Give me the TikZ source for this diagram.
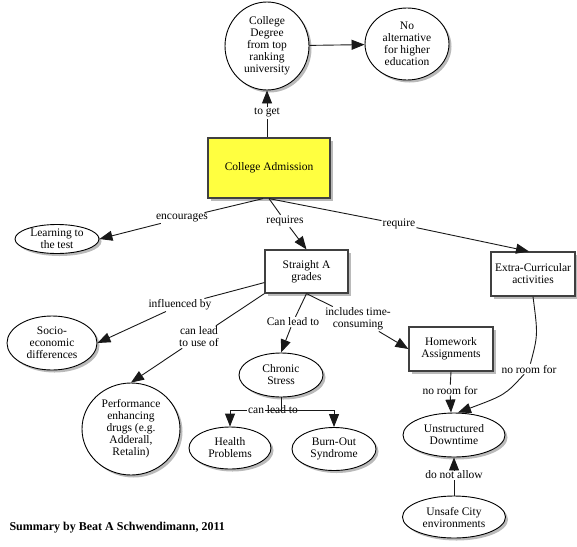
\documentclass[tikz,border=0pt]{standalone}
\usepackage{fontspec}
\setmainfont{Liberation Serif}
\usetikzlibrary{shapes.geometric,shadows,arrows.meta,calc}
\definecolor{admyellow}{RGB}{255,255,64}
\begin{document}
\begin{tikzpicture}[x=1pt,y=-1pt,
  every node/.style={font=\fontsize{11.5}{12}\selectfont},
  shad/.style={drop shadow={shadow xshift=2.5pt,shadow yshift=-2.5pt,fill=black!45,opacity=0.6}},
  ell/.style={ellipse,draw=black,line width=0.9pt,fill=white,align=center,inner sep=-15pt,shad},
  box/.style={rectangle,draw=black!75,line width=1.2pt,fill=white,align=center,inner sep=0pt,shad},
  lbl/.style={fill=white,inner sep=1pt,align=center},
  ln/.style={draw=black!90,line width=0.9pt},
  arr/.style={ln,-{Triangle[length=13pt,width=10pt]}}]
\useasboundingbox (0,0) rectangle (577,546);

% concepts
\node[ell,minimum width=84pt,minimum height=88pt] (deg) at (267,46) {College\\Degree\\from top\\ranking\\university};
\node[ell,minimum width=84pt,minimum height=72pt] (noalt) at (407,44) {No\\alternative\\for higher\\education};
\node[box,fill=admyellow,minimum width=122pt,minimum height=60pt] (adm) at (269,168) {College Admission};
\node[ell,minimum width=84pt,minimum height=29pt] (learn) at (57,239) {Learning to\\the test};
\node[box,minimum width=83pt,minimum height=43pt] (straight) at (306.5,271.5) {Straight A\\grades};
\node[box,minimum width=84pt,minimum height=44pt] (extra) at (533,274) {Extra-Curricular\\activities};
\node[ell,minimum width=90pt,minimum height=54pt] (socio) at (52,343) {Socio-\\economic\\differences};
\node[ell,minimum width=98pt,minimum height=92pt] (perf) at (131,429) {Performance\\enhancing\\drugs (e.g.\\Adderall,\\Retalin)};
\node[ell,minimum width=84pt,minimum height=44pt] (chronic) at (281,375) {Chronic\\Stress};
\node[box,minimum width=84pt,minimum height=44pt] (hw) at (451,349) {Homework\\Assignments};
\node[ell,minimum width=82pt,minimum height=42pt] (health) at (230,448) {Health\\Problems};
\node[ell,minimum width=84pt,minimum height=43pt] (burn) at (334,449) {Burn-Out\\Syndrome};
\node[ell,minimum width=102pt,minimum height=44pt] (unstr) at (454,435) {Unstructured\\Downtime};
\node[ell,minimum width=103pt,minimum height=42pt] (unsafe) at (454,517) {Unsafe City\\environments};

% linking phrases
\node[lbl] (toget) at (267,113) {to get};
\node[lbl] (enc) at (182,218) {encourages};
\node[lbl] (req) at (285,221) {requires};
\node[lbl] (reqr) at (399,224) {require};
\node[lbl] (infl) at (180,305) {influenced by};
\node[lbl] (cltu) at (199,337) {can lead\\to use of};
\node[lbl] (clt) at (293,322) {Can lead to};
\node[lbl] (incl) at (358,319) {includes time-\\consuming};
\node[lbl] (nr1) at (450,390) {no room for};
\node[lbl] (nr2) at (529,369) {no room for};
\node[lbl] (dna) at (454,475) {do not allow};
\node[lbl] (cl2) at (273,410) {can lead to};
\coordinate (fork) at (281,410);
\coordinate (forkR) at (265,410);

% connectors
\draw[ln] (adm.north -| deg.south) -- (toget);
\draw[arr] (toget) -- (deg.south);
\draw[arr] (deg) -- (noalt);
\draw[ln] ([xshift=-6pt]adm.south) -- (enc);
\draw[arr] (enc) -- (learn.east);
\draw[ln] (adm.south) -- (req);
\draw[arr] (req) -- (straight.north);
\draw[ln] (adm.south) -- (reqr);
\draw[arr] (reqr) -- ([xshift=-4pt]extra.north);
\draw[ln] ($(straight.west)!0.5!(straight.south west)$) -- (infl);
\draw[arr] (infl) -- (socio.east);
\draw[ln] (straight.south west) -- (cltu);
\draw[arr] (cltu) -- (perf.north);
\draw[ln] (straight.south) -- (clt);
\draw[arr] (clt) -- (chronic.north);
\draw[ln] (straight.south) -- (incl);
\draw[arr] (incl) -- (hw.west);
\draw[ln] (hw.south) -- (nr1);
\draw[arr] (nr1) -- (hw.south |- unstr.north);
\draw[ln] (extra.south) .. controls (538,335) .. (nr2);
\draw[arr] (nr2) .. controls (505,395) .. (unstr.80);
\draw[ln] (unsafe.north) -- (dna);
\draw[arr] (dna) -- (unstr.south);
\draw[ln] (chronic.south) -- (fork);
\draw[arr] (cl2.west) -| (health.north);
\draw[arr] (forkR) -| (burn.north);

\node[anchor=west,font=\fontsize{12}{14}\selectfont\bfseries] (summary) at (6,528) {Summary by Beat A Schwendimann, 2011};
\end{tikzpicture}
\end{document}
